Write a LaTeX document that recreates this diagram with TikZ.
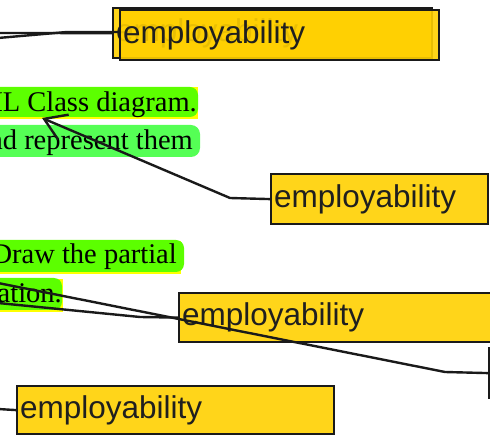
\documentclass[tikz,border=0pt]{standalone}
\usepackage{fontspec}
\setmainfont{Liberation Serif}
\newfontfamily\boxfont{Liberation Sans}
\usetikzlibrary{arrows.meta}
\definecolor{boxyellow}{HTML}{FFD51A}
\definecolor{topyellow}{HTML}{FFD000}
\definecolor{hlgreen}{HTML}{5CFF00}
\definecolor{hlgreenb}{HTML}{55FF55}
\definecolor{hlyellow}{HTML}{FFFF00}
\definecolor{edge}{HTML}{1A1A1A}
\begin{document}
\begin{tikzpicture}[x=1pt,y=-1pt,
  ebox/.style={draw=edge, line width=2.2pt, fill=boxyellow, anchor=north west,
    inner xsep=3pt, inner ysep=0pt, align=left,
    font=\boxfont\fontsize{31.5}{36}\selectfont, text=black!88},
  conn/.style={draw=edge, line width=2.4pt},
  hltext/.style={anchor=base east, font=\fontsize{28.5}{32}\selectfont, inner sep=0pt}]
\useasboundingbox (0,0) rectangle (490,435);
\clip (0,0) rectangle (490,435);
% highlighted text lines
\fill[hlyellow] (-20,87) rectangle (198,119);
\fill[hlgreen, rounded corners=8pt] (-20,87) rectangle (198,117);
\node[hltext] (l1) at (197,112) {UML Class diagram.};
\fill[hlgreenb, rounded corners=9pt] (-20,125) rectangle (200,157);
\node[hltext] (l2) at (193,150) {and represent them};
\fill[hlyellow] (-20,241) rectangle (181,274);
\fill[hlgreen, rounded corners=8pt] (-20,240) rectangle (184,272);
\node[hltext] (l3) at (177,264) {Draw the partial};
\fill[hlyellow] (-20,279) rectangle (63,312);
\fill[hlgreen, rounded corners=8pt] (-20,278) rectangle (62,310);
\node[hltext] (l4) at (62,303) {ation.};
% boxes
\node[ebox, minimum height=50pt, text width=313pt] (back) at (112,7) {employability};
\node[ebox, fill=topyellow, fill opacity=0.9, text opacity=1, draw opacity=1,
  minimum height=50pt, text width=313pt] (front) at (119,9) {employability};
\node[ebox, minimum height=50pt, text width=211pt] (mid) at (270,173) {employability};
\node[ebox, minimum height=49pt, text width=320pt] (box3) at (178,292) {employability};
\node[ebox, minimum height=50pt, text width=60pt] (box4) at (488,347) {};
\node[ebox, minimum height=48pt, text width=311pt] (box5) at (16,385) {employability};
% connectors
\coordinate (t1) at (-2,33);
\coordinate (t2) at (-2,38);
\coordinate (tbend) at (67,32);
\draw[conn] (t1) -- (back.west);
\draw[conn] (t2) -- (tbend) -- (front.west |- tbend);
\coordinate (tip) at (42,118);
\coordinate (mbend) at (230,198);
\draw[conn, -{Straight Barb[length=21pt,width=27pt]}] (mid.west) -- (mbend) -- (tip);
\coordinate (a0) at (-2,283);
\coordinate (abend) at (445,372);
\draw[conn] (a0) -- (abend) -- (box4.west);
\coordinate (b0) at (-2,303);
\coordinate (bbend) at (140,317);
\draw[conn] (b0) -- (bbend) -- (box3.west);
\coordinate (c0) at (-2,409);
\draw[conn] (c0) -- (box5.west);
\end{tikzpicture}
\end{document}
